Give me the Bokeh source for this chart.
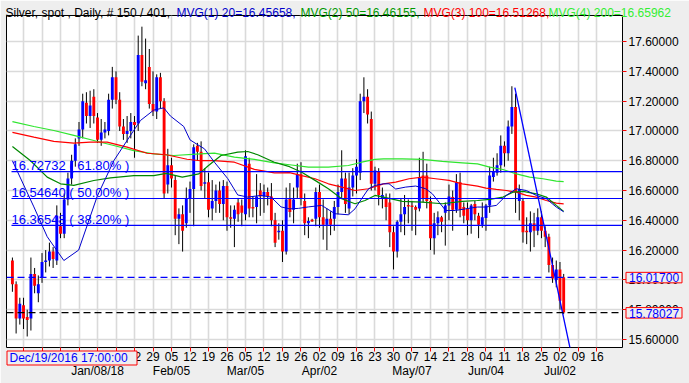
from bokeh.plotting import figure
from bokeh.models import (Range1d, FixedTicker, LinearAxis, Label, Span,
                          PrintfTickFormatter, ColumnDataSource, GridBox, Column)
from bokeh.core.properties import value
from bokeh.embed import file_html
from bokeh.resources import INLINE

# ---------------- data ----------------
opens = [16.13, 15.97, 15.74, 15.83, 15.75, 15.74, 16.04, 15.91, 16.02, 16.12,
         16.13, 16.19, 16.13, 16.36, 16.31, 16.54, 16.68, 16.80, 16.95, 17.01,
         17.19, 17.10, 17.23, 17.09, 16.94, 16.99, 17.00, 17.21, 17.36, 17.21,
         17.03, 16.98, 17.00, 17.06, 17.05, 17.51, 17.32, 17.43, 17.18, 17.13,
         17.36, 17.20, 16.64, 16.77, 16.67, 16.41, 16.44, 16.38, 16.55, 16.61,
         16.90, 16.86, 16.645, 16.656, 16.48, 16.53, 16.60, 16.51, 16.63, 16.42,
         16.41, 16.52, 16.50, 16.44, 16.78, 16.49, 16.49, 16.60, 16.56, 16.59,
         16.56, 16.40, 16.32, 16.33, 16.19, 16.545, 16.47, 16.62, 16.71, 16.53,
         16.38, 16.40, 16.41, 16.59, 16.42, 16.37, 16.41, 16.41, 16.49, 16.59,
         16.68, 16.48, 16.62, 16.70, 16.72, 17.20, 17.23, 17.08, 16.645, 16.73,
         16.55, 16.545, 16.52, 16.32, 16.19, 16.39, 16.44, 16.50, 16.50, 16.49,
         16.48, 16.70, 16.70, 16.53, 16.28, 16.38, 16.42, 16.45, 16.50, 16.556,
         16.47, 16.656, 16.49, 16.477, 16.40, 16.51, 16.43, 16.37, 16.415, 16.50,
         16.69, 16.72, 16.77, 16.90, 16.85, 17.03, 17.16, 16.53, 16.53, 16.33,
         16.32, 16.38, 16.33, 16.42, 16.33, 16.29, 16.10, 16.00, 16.07, 16.018]
highs = [16.15, 15.99, 15.88, 15.88, 15.80, 16.15, 16.08, 16.03, 16.18, 16.20,
         16.25, 16.22, 16.50, 16.45, 16.58, 16.72, 16.84, 16.95, 17.06, 17.25,
         17.26, 17.27, 17.28, 17.12, 17.08, 17.06, 17.25, 17.43, 17.40, 17.26,
         17.08, 17.10, 17.12, 17.10, 17.64, 17.70, 17.62, 17.55, 17.40, 17.38,
         17.39, 17.22, 16.88, 16.82, 16.70, 16.48, 16.50, 16.62, 16.66, 16.91,
         16.92, 16.93, 16.75, 16.72, 16.67, 16.64, 16.66, 16.67, 16.66, 16.50,
         16.50, 16.55, 16.54, 16.87, 16.82, 16.56, 16.71, 16.65, 16.64, 16.62,
         16.65, 16.45, 16.38, 16.40, 16.62, 16.65, 16.62, 16.78, 16.79, 16.58,
         16.42, 16.41, 16.62, 16.64, 16.54, 16.48, 16.46, 16.53, 16.64, 16.87,
         16.72, 16.72, 16.75, 16.81, 17.25, 17.36, 17.28, 17.13, 16.76, 16.75,
         16.62, 16.58, 16.58, 16.36, 16.40, 16.55, 16.57, 16.54, 16.53, 16.50,
         16.82, 16.86, 16.78, 16.56, 16.45, 16.46, 16.43, 16.52, 16.64, 16.60,
         16.71, 16.72, 16.52, 16.52, 16.51, 16.53, 16.45, 16.52, 16.51, 16.76,
         16.82, 16.85, 16.97, 16.93, 17.07, 17.30, 17.25, 16.64, 16.55, 16.42,
         16.46, 16.45, 16.48, 16.46, 16.36, 16.31, 16.15, 16.13, 16.12, 16.04]
lows = [15.92, 15.64, 15.70, 15.67, 15.62, 15.66, 15.91, 15.85, 15.98, 16.05,
        16.09, 16.08, 16.10, 16.28, 16.28, 16.50, 16.64, 16.76, 16.90, 16.95,
        17.05, 17.02, 17.05, 16.92, 16.90, 16.95, 16.97, 17.15, 17.18, 17.00,
        16.94, 16.92, 16.95, 16.82, 17.00, 17.30, 17.28, 17.15, 17.10, 17.08,
        17.15, 16.55, 16.58, 16.62, 16.30, 16.24, 16.19, 16.35, 16.45, 16.36,
        16.80, 16.60, 16.55, 16.42, 16.40, 16.45, 16.45, 16.40, 16.33, 16.35,
        16.22, 16.39, 16.36, 16.40, 16.42, 16.42, 16.38, 16.43, 16.45, 16.50,
        16.36, 16.22, 16.27, 16.12, 16.17, 16.42, 16.38, 16.55, 16.50, 16.30,
        16.28, 16.39, 16.36, 16.35, 16.27, 16.20, 16.30, 16.33, 16.44, 16.55,
        16.45, 16.44, 16.56, 16.58, 16.67, 17.12, 17.05, 16.60, 16.60, 16.50,
        16.48, 16.40, 16.22, 16.07, 16.15, 16.32, 16.30, 16.38, 16.33, 16.30,
        16.46, 16.52, 16.48, 16.20, 16.17, 16.30, 16.32, 16.23, 16.40, 16.33,
        16.45, 16.42, 16.38, 16.30, 16.31, 16.40, 16.28, 16.35, 16.33, 16.45,
        16.66, 16.70, 16.72, 16.76, 16.80, 16.98, 16.45, 16.40, 16.25, 16.24,
        16.19, 16.22, 16.30, 16.28, 16.22, 16.05, 15.98, 15.95, 15.80, 15.77]
closes = [15.97, 15.74, 15.84, 15.74, 15.73, 16.04, 15.96, 15.97, 16.12, 16.13,
          16.19, 16.14, 16.43, 16.31, 16.54, 16.68, 16.80, 16.91, 17.01, 17.20,
          17.10, 17.17, 17.10, 16.94, 16.99, 17.01, 17.21, 17.36, 17.21, 17.03,
          16.98, 17.00, 17.06, 17.04, 17.51, 17.33, 17.34, 17.18, 17.13, 17.36,
          17.20, 16.58, 16.77, 16.68, 16.41, 16.44, 16.33, 16.55, 16.61, 16.89,
          16.86, 16.63, 16.656, 16.47, 16.53, 16.60, 16.51, 16.63, 16.42, 16.41,
          16.47, 16.44, 16.45, 16.83, 16.48, 16.48, 16.56, 16.56, 16.59, 16.56,
          16.40, 16.25, 16.33, 16.19, 16.54, 16.455, 16.54, 16.71, 16.545, 16.38,
          16.395, 16.395, 16.59, 16.42, 16.37, 16.41, 16.37, 16.49, 16.59, 16.68,
          16.51, 16.62, 16.70, 16.76, 17.20, 17.23, 17.11, 16.645, 16.735, 16.57,
          16.57, 16.49, 16.32, 16.19, 16.39, 16.44, 16.49, 16.495, 16.49, 16.47,
          16.69, 16.545, 16.53, 16.28, 16.38, 16.42, 16.39, 16.50, 16.56, 16.47,
          16.656, 16.47, 16.43, 16.40, 16.50, 16.44, 16.37, 16.42, 16.50, 16.70,
          16.73, 16.77, 16.90, 16.85, 17.03, 17.16, 16.59, 16.61, 16.32, 16.32,
          16.38, 16.33, 16.42, 16.33, 16.29, 16.10, 16.01, 16.07, 15.86, 15.78027]

# moving averages (bar index, value)
ma20_x = [0, 5.8, 9.4, 13.9, 17.9, 22.9, 27.4, 31.9, 34.6, 38.2, 40.9, 42.7, 46.3, 48, 49.9,
          51.9, 54.6, 58.2, 60.9, 63.6, 67.2, 69.9, 72.6, 74.9, 77.3, 80, 83.6, 87.2, 90.8,
          92.6, 94.4, 96.2, 98, 100.3, 101.8, 103.6, 106.3, 109, 111.7, 113.5, 115.3, 117.1,
          119.8, 122.5, 125.7, 128, 130.8, 133.5, 136.2, 138.9, 141.6, 144.3, 147, 149]
ma20_y = [16.80, 16.49, 16.29, 16.13, 16.20, 16.56, 16.80, 16.97, 17.07, 17.14, 17.155, 17.10,
          17.03, 16.94, 16.91, 16.88, 16.79, 16.68, 16.57, 16.556, 16.567, 16.556, 16.49, 16.477,
          16.48, 16.49, 16.50, 16.444, 16.437, 16.477, 16.545, 16.61, 16.634, 16.645, 16.645,
          16.61, 16.623, 16.63, 16.612, 16.578, 16.522, 16.466, 16.466, 16.477, 16.489, 16.489,
          16.50, 16.567, 16.612, 16.60, 16.567, 16.545, 16.489, 16.457]
ma50_x = [0, 4.9, 9.4, 13, 16.6, 22, 26.5, 32.8, 38.2, 41.6, 45.9, 50.4, 53, 56.4, 60.9, 63.6,
          66.3, 70.8, 74.9, 78.2, 81.8, 85.4, 89, 92.6, 95.3, 98, 100.3, 105.4, 110.8, 116.2,
          121.6, 125.7, 129, 132.6, 135.3, 138, 141.6, 144.3, 147, 149]
ma50_y = [16.895, 16.80, 16.69, 16.645, 16.634, 16.667, 16.685, 16.70, 16.70, 16.715, 16.69,
          16.712, 16.768, 16.835, 16.858, 16.862, 16.84, 16.79, 16.76, 16.723, 16.668, 16.612,
          16.545, 16.511, 16.533, 16.567, 16.556, 16.527, 16.522, 16.511, 16.527, 16.533, 16.54,
          16.556, 16.589, 16.594, 16.578, 16.556, 16.50, 16.46]
ma100_x = [0, 5.8, 11.2, 16.6, 21, 25.6, 31, 36.4, 41.6, 47.2, 50.8, 54.6, 60, 65.4, 70.8, 74.9,
           78.2, 81.8, 85.4, 89, 92.6, 96.2, 100.3, 103.6, 107.2, 110.8, 114.4, 118, 121.6,
           125.7, 128, 130.8, 133.5, 136.2, 138.9, 141.6, 144.3, 147, 149]
ma100_y = [16.99, 16.958, 16.93, 16.918, 16.925, 16.925, 16.891, 16.85, 16.84, 16.81, 16.80,
           16.80, 16.79, 16.742, 16.719, 16.72, 16.70, 16.679, 16.645, 16.623, 16.60, 16.612,
           16.645, 16.656, 16.679, 16.69, 16.679, 16.668, 16.645, 16.63, 16.616, 16.607, 16.60,
           16.589, 16.567, 16.556, 16.533, 16.515, 16.51]
ma200_x = [0, 5.8, 11.2, 16.6, 22, 27.4, 32.8, 38.2, 43.6, 50.8, 54.6, 60, 65.4, 70.8, 74.9,
           80, 85.4, 90.8, 94.4, 98, 100.3, 105.4, 110.8, 116.2, 121.6, 125.7, 129, 132.6,
           136.2, 139.8, 143.4, 147, 149]
ma200_y = [17.063, 17.03, 17.003, 16.97, 16.936, 16.902, 16.868, 16.846, 16.835, 16.846,
           16.851, 16.824, 16.809, 16.786, 16.773, 16.757, 16.757, 16.768, 16.79, 16.809,
           16.813, 16.813, 16.809, 16.795, 16.786, 16.779, 16.757, 16.741, 16.712, 16.69,
           16.679, 16.663, 16.66]

# Fibonacci retracement levels
fib_levels = [16.72732, 16.54640, 16.36548]
fib_pcts = ["61.80%", "50.00%", "38.20%"]
# horizontal price lines
line_blue = 16.01700
line_last = 15.78027
# user trend line (bar index, price)
trend_x = [135.8, 151.5]
trend_y = [17.29, 15.45]

# axis ticks
y_ticks = [15.6, 15.8, 16.0, 16.2, 16.4, 16.6, 16.8, 17.0, 17.2, 17.4, 17.6]
week_idx = [3, 8, 13, 18, 23, 28, 33, 38, 43, 48, 53, 58, 63, 68, 73, 78, 83, 88, 93, 98,
            103, 108, 113, 118, 123, 128, 133, 138, 143, 148, 153, 158]
week_labels = ["11", "18", "25", "01", "08", "15", "22", "29", "05", "12", "19", "26",
               "05", "12", "19", "26", "02", "09", "16", "23", "30", "07", "14", "21", "28",
               "04", "11", "18", "25", "02", "09", "16"]
month_idx = [23, 43, 63, 83, 108, 128, 148]
month_labels = ["Jan/08/18", "Feb/05", "Mar/05", "Apr/02", "May/07", "Jun/04", "Jul/02"]
title_parts = ["Silver, spot , Daily, # 150 / 401,", "MVG(1) 20=16.45658,",
               "MVG(2) 50=16.46155,", "MVG(3) 100=16.51268,", "MVG(4) 200=16.65962"]
date_box = "Dec/19/2016 17:00:00"

# ---------------- layout constants ----------------
W, H = 689, 383
FL, FR, FT, FB = 6, 622, 15, 347
X0, X1 = -1.6, 164.9
Y0, Y1 = 15.546, 17.775
BG = "#EEEEEE"
FONT = "Liberation Sans"
BLUE, RED = "#0000FF", "#FF0000"


def v2py(v):
    return FT + (Y1 - v) * (FB - FT) / (Y1 - Y0)


p = figure(width=W, height=H, x_range=Range1d(X0, X1), y_range=Range1d(Y0, Y1),
           output_backend="svg", toolbar_location=None, title=None,
           y_axis_location="right",
           min_border_left=FL, min_border_right=W - FR,
           min_border_top=FT, min_border_bottom=H - FB)
p.border_fill_color = BG
p.background_fill_color = "white"
p.outline_line_color = "black"
p.outline_line_width = 1

# y axis (right)
ya = p.yaxis[0]
ya.ticker = FixedTicker(ticks=y_ticks)
ya.formatter = PrintfTickFormatter(format="%.5f")
ya.axis_line_color = None
ya.major_tick_line_color = "red"
ya.major_tick_in = 0
ya.major_tick_out = 4
ya.minor_tick_line_color = None
ya.major_label_standoff = 2
ya.major_label_text_font = FONT
ya.major_label_text_font_size = "12px"
ya.major_label_text_color = "black"

# x axis (day numbers)
xa = p.xaxis[0]
xa.ticker = FixedTicker(ticks=week_idx)
xa.major_label_overrides = {i: s for i, s in zip(week_idx, week_labels)}
xa.axis_line_color = None
xa.major_tick_line_color = "red"
xa.major_tick_in = 0
xa.major_tick_out = 4
xa.minor_tick_line_color = None
xa.major_label_standoff = 0
xa.major_label_text_font = FONT
xa.major_label_text_font_size = "12px"
xa.major_label_text_color = "black"

# second x axis (months)
xa2 = LinearAxis(ticker=FixedTicker(ticks=month_idx),
                 major_label_overrides={i: s for i, s in zip(month_idx, month_labels)},
                 axis_line_color=None, major_tick_line_color=None,
                 minor_tick_line_color=None, major_tick_in=0, major_tick_out=0,
                 major_label_standoff=0, major_label_text_font=FONT,
                 major_label_text_font_size="12px", major_label_text_color="black")
p.add_layout(xa2, "below")

# grids
p.xgrid.ticker = FixedTicker(ticks=week_idx)
p.ygrid.ticker = FixedTicker(ticks=y_ticks)
for g in (p.xgrid, p.ygrid):
    g.grid_line_color = "#DADADA"
    g.grid_line_width = 1.6

# candles
idx = list(range(len(opens)))
top = []
bottom = []
colors = []
for o, c in zip(opens, closes):
    hi, lo = max(o, c), min(o, c)
    if hi - lo < 0.006:
        hi += 0.003
        lo -= 0.003
    top.append(hi)
    bottom.append(lo)
    colors.append(BLUE if c >= o else RED)
src = ColumnDataSource(dict(idx=idx, high=highs, low=lows, top=top, bottom=bottom, color=colors))
p.segment(x0="idx", y0="low", x1="idx", y1="high", source=src, line_color="black", line_width=1)
p.vbar(x="idx", width=0.78, top="top", bottom="bottom", source=src,
       fill_color="color", line_color=None)

# moving averages
p.line(ma200_x, ma200_y, line_color="#2EE62E", line_width=1.2)
p.line(ma100_x, ma100_y, line_color="#FF0000", line_width=1.2)
p.line(ma50_x, ma50_y, line_color="#008800", line_width=1.2)
p.line(ma20_x, ma20_y, line_color="#0000CC", line_width=1)

# fib lines + labels
fx0 = X0 + (11 - FL) * (X1 - X0) / (FR - FL)
p.segment(x0=[fx0] * 3, y0=fib_levels, x1=[X1 + 5] * 3, y1=fib_levels,
          line_color=BLUE, line_width=1.2)
for lv, pc in zip(fib_levels, fib_pcts):
    p.add_layout(Label(x=fx0, y=lv, y_offset=6, text=f"{lv:.5f} ( {pc} )",
                       text_baseline="alphabetic", text_color=BLUE,
                       text_font=FONT, text_font_size="13px"))

# dashed price lines
p.add_layout(Span(location=line_blue, dimension="width", line_color=BLUE,
                  line_dash="7 4", line_width=1.2))
p.add_layout(Span(location=line_last, dimension="width", line_color="black",
                  line_dash="7 4", line_width=1.2))

# trend line
p.line(trend_x, trend_y, line_color=BLUE, line_width=1.3)

# ---------------- transparent overlay (pixel space) for texts outside the frame ----------------
ov = figure(width=W, height=H, x_range=Range1d(0, W), y_range=Range1d(H, 0),
            output_backend="svg", toolbar_location=None, title=None,
            x_axis_type=None, y_axis_type=None, min_border=0,
            min_border_left=0, min_border_right=0, min_border_top=0, min_border_bottom=0)
ov.border_fill_color = None
ov.background_fill_color = None
ov.outline_line_color = None

# multi-coloured title
title_colors = ["black", "#0000CC", "#009900", "#FF0000", "#33EE33"]
title_px = [5, 176, 300, 423, 548]
ov.text(x=title_px, y=[12] * 5, text=title_parts, text_color=title_colors,
        text_font=value(FONT), text_font_size=value("12px"), text_baseline="alphabetic")

# price boxes on the axis
box_vals = [line_blue, line_last]
box_py = [v2py(v) for v in box_vals]
ov.quad(left=[625.5] * 2, right=[681.5] * 2, top=[y - 5 for y in box_py],
        bottom=[y + 5.5 for y in box_py], fill_color=BG, line_color="red", line_width=1)
ov.text(x=[628.5] * 2, y=[y + 0.5 for y in box_py], text=[f"{v:.5f}" for v in box_vals],
        text_color=BLUE, text_font=value(FONT), text_font_size=value("12px"),
        text_baseline="middle")

# date box
ov.quad(left=[6.5], right=[136.5], top=[350.5], bottom=[364.5], fill_color=BG,
        line_color="red", line_width=1)
ov.text(x=[9], y=[357.5], text=[date_box], text_color=BLUE, text_font=value(FONT),
        text_font_size=value("12px"), text_baseline="middle")

wrapper = Column(children=[ov], width=W, height=H)
layout = GridBox(children=[(p, 0, 0), (wrapper, 0, 0)])
open("out.html", "w").write(file_html(layout, INLINE))
